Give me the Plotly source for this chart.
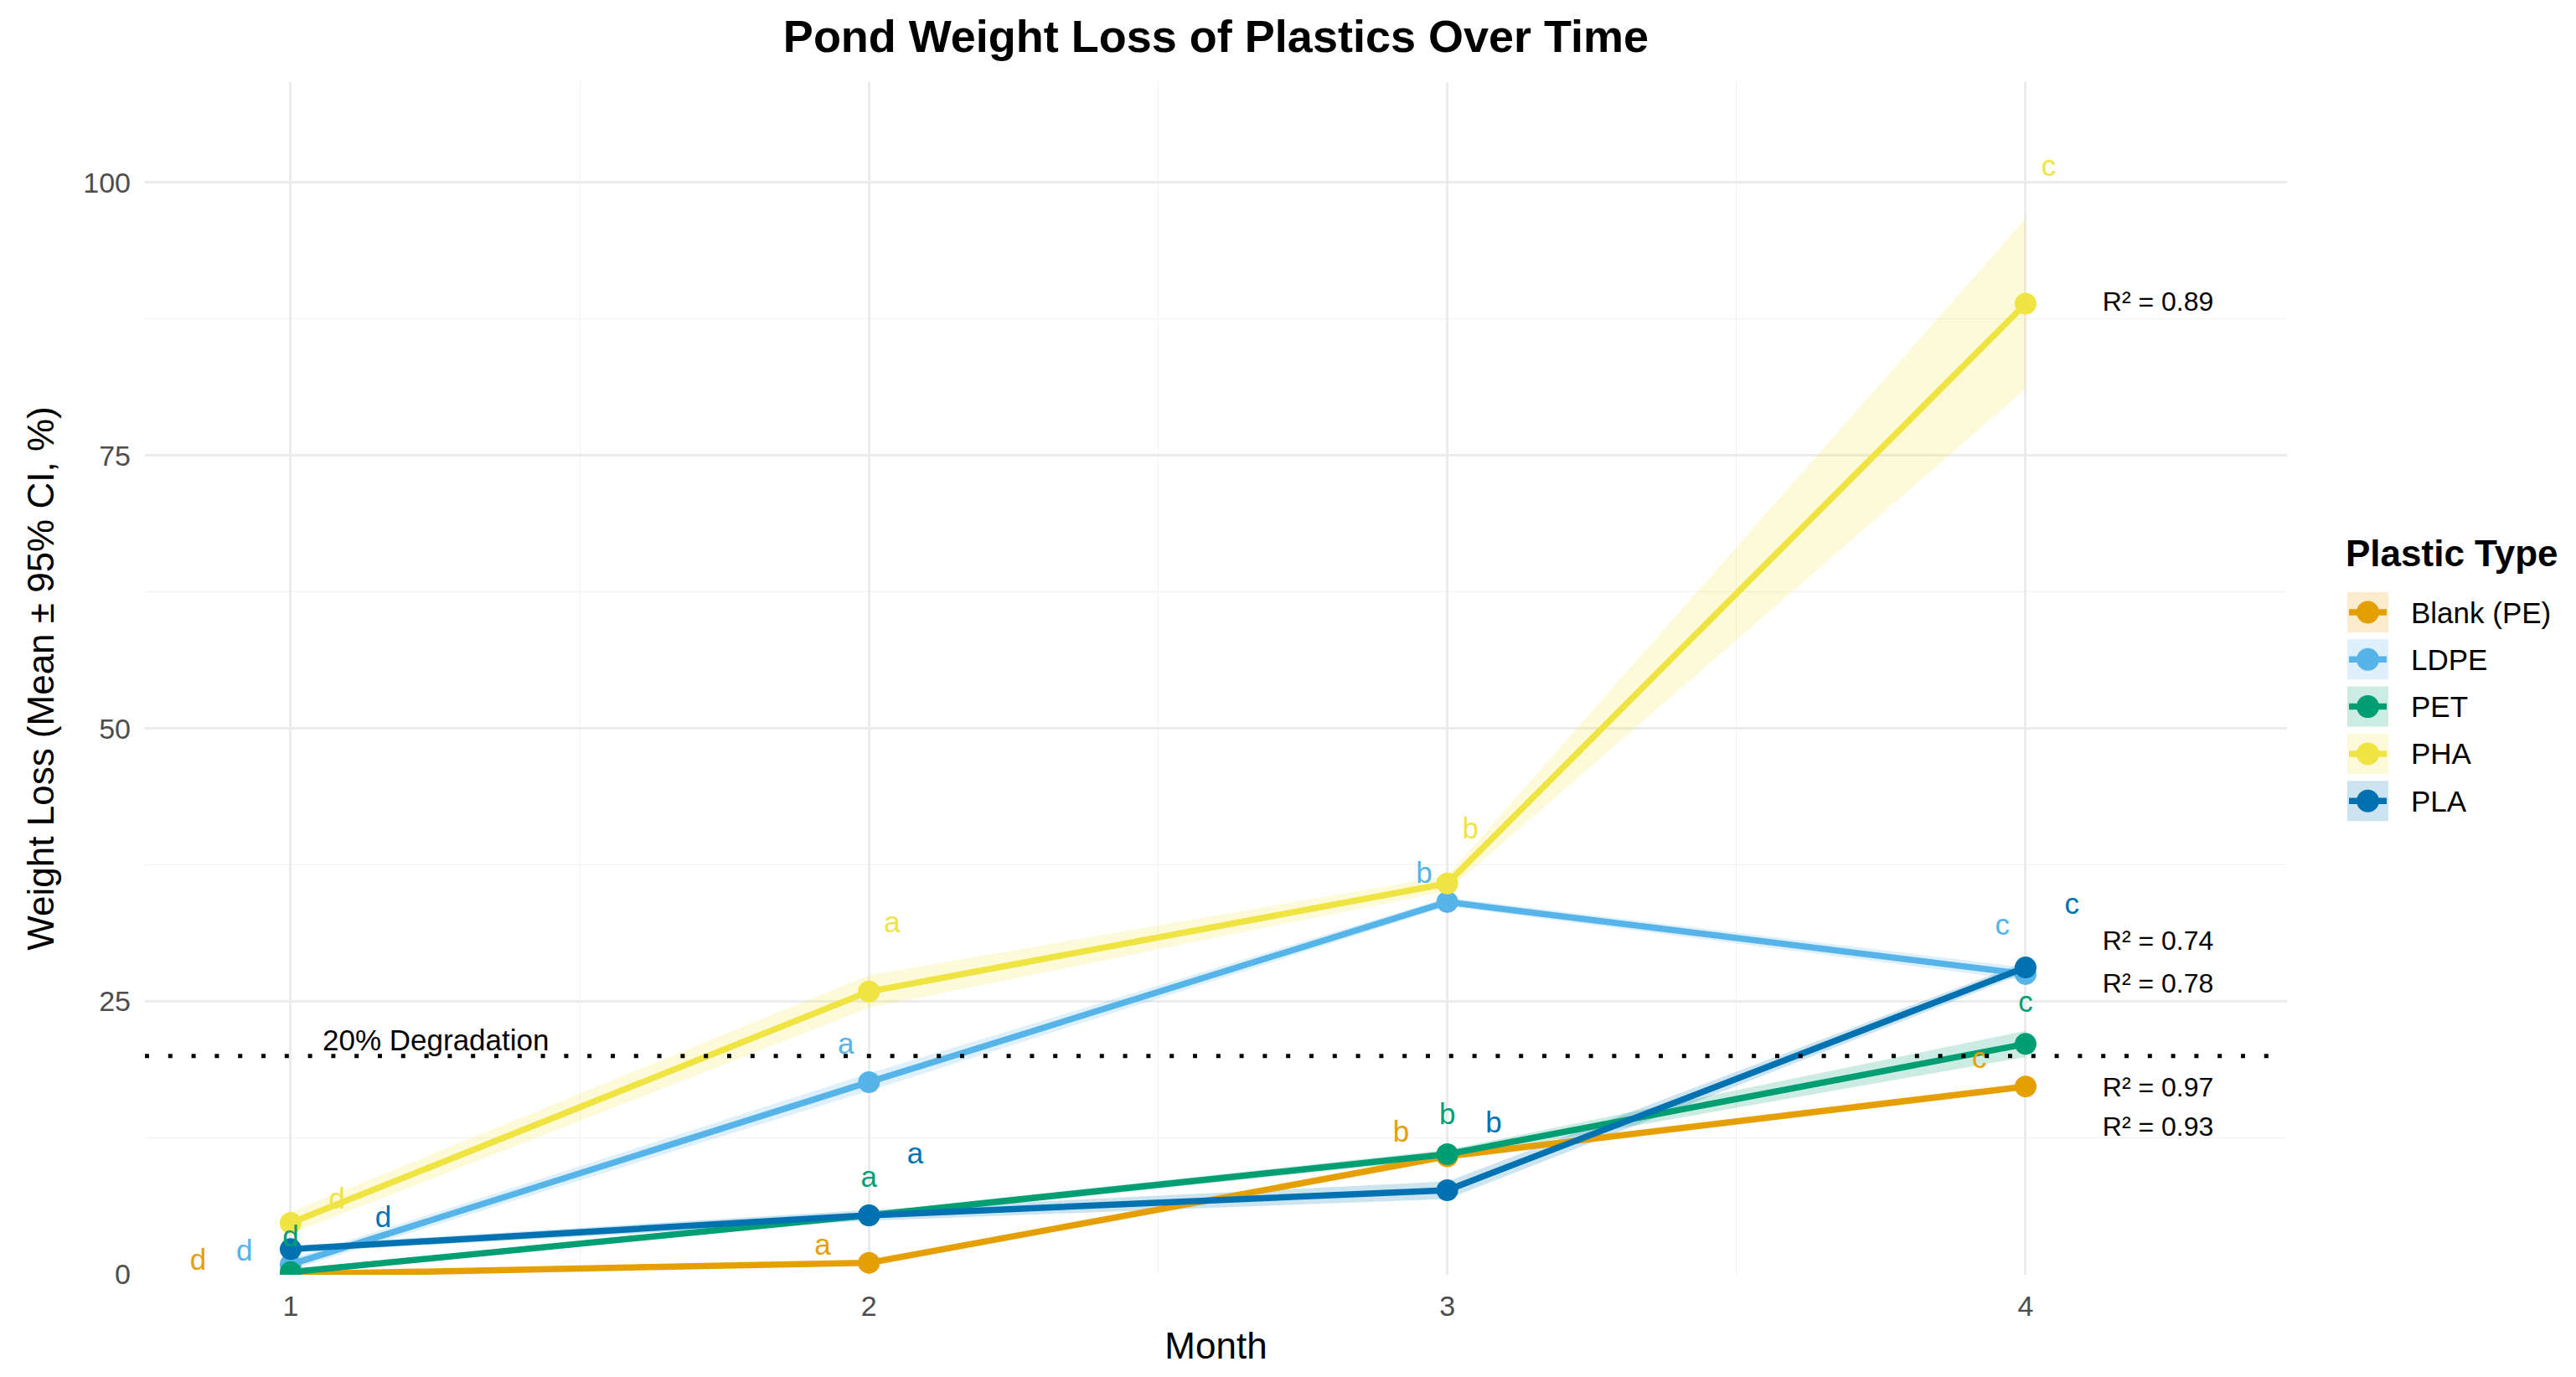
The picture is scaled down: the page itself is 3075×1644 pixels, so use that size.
import plotly.graph_objects as go

# ---------------- data ----------------
months = [1, 2, 3, 4]
plastics = ["Blank (PE)", "LDPE", "PET", "PHA", "PLA"]
colors = ["#E69F00", "#56B4E9", "#009E73", "#F0E442", "#0072B2"]
fills = ["rgba(230,159,0,0.2)", "rgba(86,180,233,0.2)", "rgba(0,158,115,0.2)",
         "rgba(240,228,66,0.2)", "rgba(0,114,178,0.2)"]

blank_mean = [0.0, 1.05, 10.8, 17.2]
ldpe_mean = [0.9, 17.6, 34.1, 27.5]
pet_mean = [0.2, 5.4, 11.0, 21.1]
pha_mean = [4.7, 25.9, 35.8, 88.9]
pla_mean = [2.3, 5.4, 7.7, 28.1]

blank_ci = [0.1, 0.2, 0.3, 0.3]
ldpe_ci = [0.5, 0.8, 0.4, 0.6]
pet_ci = [0.2, 0.3, 0.4, 1.2]
pha_ci = [1.0, 1.5, 0.7, 7.8]
pla_ci = [0.3, 0.5, 0.8, 0.5]

blank_letters = ["d", "a", "b", "c"]
ldpe_letters = ["d", "a", "b", "c"]
pet_letters = ["d", "a", "b", "c"]
pha_letters = ["d", "a", "b", "c"]
pla_letters = ["d", "a", "b", "c"]

blank_letter_y = [1.07, 2.45, 12.8, 19.6]
ldpe_letter_y = [1.94, 20.9, 36.5, 31.8]
pet_letter_y = [3.2, 8.7, 14.4, 24.7]
pha_letter_y = [6.67, 32.0, 40.6, 101.3]
pla_letter_y = [4.96, 10.8, 13.7, 33.7]

r2_values = [0.93, 0.74, 0.97, 0.89, 0.78]
r2_label_y = [13.3, 30.3, 16.9, 88.9, 26.4]
r2_label_x = 4.229

threshold = 20
threshold_label = "20% Degradation"
threshold_label_x = 1.25
threshold_label_y = 21.5

x_ticks = [1, 2, 3, 4]
y_ticks = [0, 25, 50, 75, 100]

means = [blank_mean, ldpe_mean, pet_mean, pha_mean, pla_mean]
cis = [blank_ci, ldpe_ci, pet_ci, pha_ci, pla_ci]
letters = [blank_letters, ldpe_letters, pet_letters, pha_letters, pla_letters]
letter_ys = [blank_letter_y, ldpe_letter_y, pet_letter_y, pha_letter_y, pla_letter_y]

# ---------------- style ----------------
FONT = "Liberation Sans, Arial, Helvetica, sans-serif"
W, H = 3075, 1644
L, R, T, B = 173, 345, 98, 122
letter_dodge = [0.08, 0.04, 0.04, 0.04]

fig = go.Figure()

# ribbons
for k, name in enumerate(plastics):
    m, c = means[k], cis[k]
    upper = [a + b for a, b in zip(m, c)]
    lower = [a - b for a, b in zip(m, c)]
    fig.add_trace(go.Scatter(
        x=months + months[::-1], y=upper + lower[::-1],
        fill="toself", fillcolor=fills[k], line=dict(width=0),
        mode="lines", hoverinfo="skip", showlegend=False))

# lines + points
for k, name in enumerate(plastics):
    fig.add_trace(go.Scatter(
        x=months, y=means[k], mode="lines+markers", name=name,
        line=dict(color=colors[k], width=7.5),
        marker=dict(color=colors[k], size=26),
        showlegend=False))

# significance letters
for k, name in enumerate(plastics):
    xs = [mo + (k - 2) * letter_dodge[i] for i, mo in enumerate(months)]
    fig.add_trace(go.Scatter(
        x=xs, y=letter_ys[k], mode="text", text=letters[k],
        textfont=dict(family=FONT, size=35, color=colors[k]),
        textposition="middle center", showlegend=False, hoverinfo="skip",
        cliponaxis=False))

# R² labels
fig.add_trace(go.Scatter(
    x=[r2_label_x] * len(r2_values), y=r2_label_y, mode="text",
    text=[f"R² = {v:.2f}" for v in r2_values],
    textfont=dict(family=FONT, size=32, color="black"),
    textposition="middle center", showlegend=False, hoverinfo="skip",
    cliponaxis=False))

# threshold line and label
fig.add_hline(y=threshold, line=dict(color="black", width=5, dash="5px,22.8px"),
              layer="above")
fig.add_annotation(x=threshold_label_x, y=threshold_label_y, text=threshold_label,
                   showarrow=False, font=dict(family=FONT, size=35, color="black"),
                   xanchor="center", yanchor="middle")

# ---------------- manual legend ----------------
pw, ph = W - L - R, H - T - B
def px2x(px):
    return (px - L) / pw
def py2y(py):
    return (H - B - py) / ph

fig.add_annotation(xref="paper", yref="paper", x=px2x(2798), y=py2y(661),
                   text="<b>Plastic Type</b>", showarrow=False,
                   font=dict(family=FONT, size=44, color="black"),
                   xanchor="left", yanchor="middle")
for k, name in enumerate(plastics):
    top = 707 + 56.3 * k
    cy = top + 24
    fig.add_shape(type="rect", xref="paper", yref="paper",
                  x0=px2x(2802), x1=px2x(2851), y0=py2y(top), y1=py2y(top + 48),
                  fillcolor=fills[k], line=dict(width=0), layer="above")
    fig.add_shape(type="line", xref="paper", yref="paper",
                  x0=px2x(2804), x1=px2x(2849), y0=py2y(cy), y1=py2y(cy),
                  line=dict(color=colors[k], width=7.5), layer="above")
    fig.add_shape(type="circle", xref="paper", yref="paper",
                  x0=px2x(2826.5 - 13.5), x1=px2x(2826.5 + 13.5),
                  y0=py2y(cy - 13.5), y1=py2y(cy + 13.5),
                  fillcolor=colors[k], line=dict(width=0), layer="above")
    fig.add_annotation(xref="paper", yref="paper", x=px2x(2876), y=py2y(cy),
                       text=name, showarrow=False,
                       font=dict(family=FONT, size=35, color="black"),
                       xanchor="left", yanchor="middle")

# ---------------- layout ----------------
fig.update_layout(
    width=W, height=H,
    margin=dict(l=L, r=R, t=T, b=B, autoexpand=False),
    plot_bgcolor="white", paper_bgcolor="white",
    font=dict(family=FONT, color="black"),
    title=dict(text="Pond Weight Loss of Plastics Over Time", x=0.5, xref="paper",
               xanchor="center", y=1 - 43 / H, yanchor="middle",
               font=dict(family=FONT, size=54, color="black", weight="bold")),
    showlegend=False,
)
fig.update_xaxes(
    range=[0.748, 4.452], tickvals=x_ticks, ticktext=[str(v) for v in x_ticks],
    showgrid=True, gridcolor="#EBEBEB", gridwidth=2.7, zeroline=False,
    minor=dict(dtick=0.5, tick0=0.5, showgrid=True, gridcolor="#F2F2F2", gridwidth=1.4),
    ticks="", ticklabelstandoff=14,
    tickfont=dict(family=FONT, size=34, color="#4D4D4D"),
    title=dict(text="Month", font=dict(family=FONT, size=44, color="black"), standoff=14),
    showline=False,
)
fig.update_yaxes(
    range=[-0.05, 109.2], tickvals=y_ticks, ticktext=[str(v) for v in y_ticks],
    showgrid=True, gridcolor="#EBEBEB", gridwidth=2.7, zeroline=False,
    minor=dict(dtick=12.5, tick0=0, showgrid=True, gridcolor="#F2F2F2", gridwidth=1.4),
    ticks="", ticklabelstandoff=16,
    tickfont=dict(family=FONT, size=34, color="#4D4D4D"),
    title=dict(text="Weight Loss (Mean ± 95% CI, %)",
               font=dict(family=FONT, size=44, color="black"), standoff=20),
    showline=False,
)

fig.write_html("out.html")
